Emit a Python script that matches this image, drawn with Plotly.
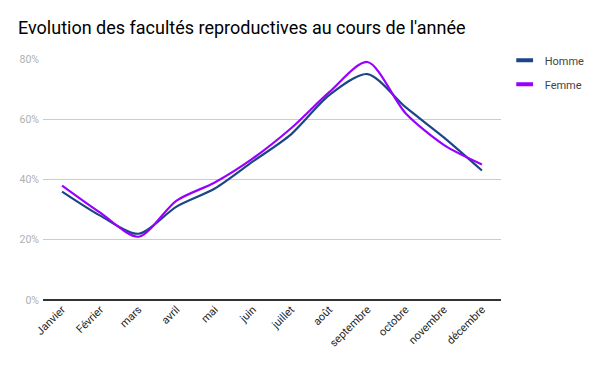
import plotly.graph_objects as go

months = ["Janvier", "Février", "mars", "avril", "mai", "juin", "juillet",
          "août", "septembre", "octobre", "novembre", "décembre"]
homme = [36, 28, 22, 31, 37, 46, 55, 68, 75, 64, 54, 43]
femme = [38, 29, 21, 33, 39, 47, 57, 69, 79, 62, 51.5, 45]
y_ticks = [0, 20, 40, 60, 80]
y_tick_labels = ["0%", "20%", "40%", "60%", "80%"]
series = [("Homme", homme, "#1c4587"), ("Femme", femme, "#9900ff")]

fig = go.Figure()
for name, vals, color in series:
    fig.add_trace(go.Scatter(x=months, y=vals, name=name, mode="lines", showlegend=False,
                             line=dict(color=color, width=2.2, shape="spline", smoothing=0.8)))
for name, vals, color in series:
    fig.add_trace(go.Scatter(x=[None], y=[None], name=name, mode="markers", legendgroup=name,
                             marker=dict(symbol="line-ew-open", size=12, color=color,
                                         line=dict(color=color, width=4))))

fig.update_layout(
    width=600, height=371,
    margin=dict(l=43, r=99, t=59, b=71, autoexpand=False),
    paper_bgcolor="white", plot_bgcolor="white",
    font=dict(family="Roboto, Arial, sans-serif"),
    title=dict(text="Evolution des facultés reproductives au cours de l'année",
               x=0.03, xanchor="left", y=0.926, yanchor="middle",
               font=dict(size=18, color="#000000", family="Roboto")),
    showlegend=True,
    legend=dict(x=1.008, xanchor="left", y=1.055, yanchor="top",
                font=dict(size=11, color="#444444"), tracegroupgap=5,
                bgcolor="rgba(0,0,0,0)"),
    xaxis=dict(type="category", tickangle=-45, showgrid=False, zeroline=False,
               showline=False, ticks="", tickfont=dict(size=11, color="#222222"),
               range=[-0.5, 11.5], automargin=False),
    yaxis=dict(range=[0, 80], tickvals=y_ticks, ticktext=y_tick_labels,
               showgrid=True, gridcolor="#cccccc", gridwidth=1, zeroline=True,
               zerolinecolor="#333333", zerolinewidth=1.5, showline=False,
               ticks="", ticklabelstandoff=3,
               tickfont=dict(size=10.5, color="#b0b0b0"), automargin=False),
)

fig.write_html("out.html", config={"displayModeBar": False},
               post_script="document.body.style.margin='0';")
